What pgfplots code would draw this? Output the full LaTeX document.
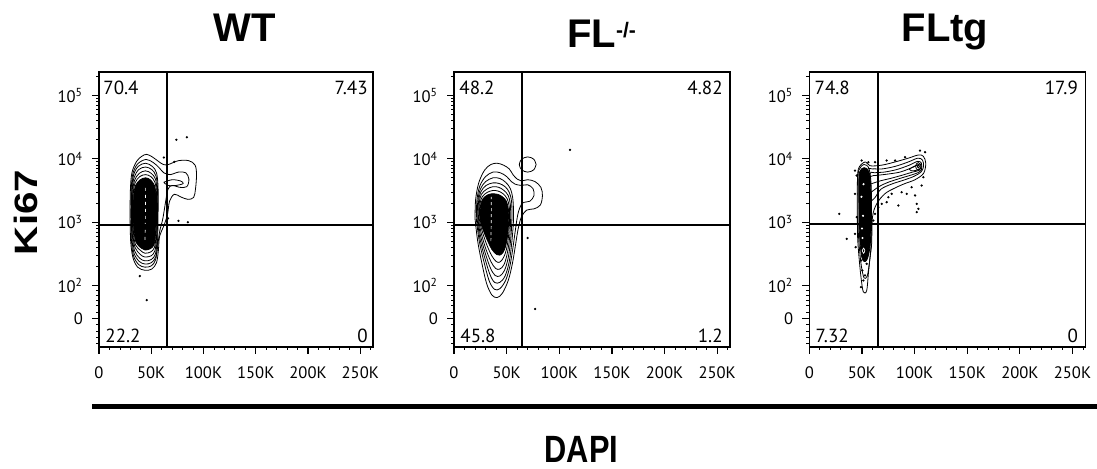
\documentclass[border=0pt]{standalone}
\usepackage{pgfplots}
\pgfplotsset{compat=1.18}
\usepackage{fontspec}
\usepackage{graphicx}
\setmainfont{Liberation Sans}
\newfontfamily\tickfont{PT Sans}

\tikzset{qlab/.style={font=\tickfont\fontsize{9.5}{10}\selectfont, inner sep=0pt}}
\pgfplotsset{
  flow/.style={
    scale only axis, height=137.5pt,
    xmin=0, xmax=262.144, ymin=1.03, ymax=5.37,
    axis line style={line width=0.65pt},
    tick align=outside, tick pos=left,
    xtick={0,50,100,150,200,250},
    xticklabels={0,50K,100K,150K,200K,250K},
    minor xtick={10,20,30,40,60,70,80,90,110,120,130,140,160,170,180,190,210,220,230,240,260},
    ytick={1.48,2,3,4,5},
    yticklabels={0,10\textsuperscript{2},10\textsuperscript{3},10\textsuperscript{4},10\textsuperscript{5}},
    minor ytick={1.08,1.18,1.28,1.38,1.58,1.68,1.77,1.85,1.92,
      2.301,2.477,2.602,2.699,2.778,2.845,2.903,2.954,
      3.301,3.477,3.602,3.699,3.778,3.845,3.903,3.954,
      4.301,4.477,4.602,4.699,4.778,4.845,4.903,4.954,5.301},
    major tick length=3.5pt, minor tick length=1.5pt,
    every tick/.style={black, line width=0.6pt},
    every minor tick/.style={black, line width=0.4pt},
    ticklabel style={font=\tickfont\fontsize{8.3}{8.3}\selectfont},
    xticklabel style={yshift=-3pt},
    yticklabel style={xshift=-1pt},
  },
  cont/.style={black, line width=0.4pt, smooth, tension=0.55, mark=none},
  core/.style={black, fill=black, line width=0.4pt, smooth, tension=0.55, mark=none},
  wcont/.style={white, line width=0.35pt, smooth, tension=0.55, mark=none},
  dots/.style={only marks, mark=*, mark size=0.35pt, black},
  gate/.style={black, line width=1pt, mark=none},
}

\begin{document}
\begin{tikzpicture}
\useasboundingbox (0pt,0pt) rectangle (548.5pt,-234.5pt);

% ---------------- WT ----------------
\begin{axis}[flow, at={(49.5pt,-173.5pt)}, anchor=south west, width=137pt]
\addplot[cont] coordinates {(29.7,3.10) (30,3.50) (31.5,3.78) (36,3.96) (41,4.04) (45.6,4.07) (51,4.03) (56.8,3.96) (61.6,3.91) (66.4,3.91) (75.9,3.97) (86,3.97) (91.9,3.90) (93.3,3.75) (92.3,3.52) (90.5,3.39) (85,3.36) (78,3.40) (72,3.44) (67.5,3.33) (65.5,3.12) (62,2.94) (58,2.78) (56.8,2.55) (55,2.36) (50.5,2.26) (44,2.24) (37,2.29) (32.5,2.44) (30.3,2.70) (29.7,3.10)};
\addplot[cont] coordinates {(30.5,3.10) (30.8,3.52) (32.5,3.77) (37,3.92) (45,3.99) (52,3.94) (57.5,3.86) (62,3.78) (68,3.75) (76,3.79) (83,3.78) (86,3.68) (84,3.56) (77,3.55) (70,3.58) (66,3.52) (63.5,3.30) (61,3.05) (58,2.85) (56,2.60) (54,2.40) (50,2.31) (44,2.29) (38,2.33) (33,2.47) (31,2.72) (30.5,3.10)};
\addplot[cont] coordinates {(62,3.63) (70,3.67) (78,3.65) (80.5,3.61) (74,3.58) (66,3.58) (62,3.63)};
\addplot[cont] coordinates {(31,3.10) (31.3,3.50) (33,3.74) (37.5,3.88) (44.5,3.93) (51,3.88) (55,3.78) (56.5,3.55) (56.5,3.10) (56,2.70) (54.5,2.46) (50,2.36) (44,2.34) (38.5,2.38) (33.5,2.51) (31.5,2.75) (31,3.10)};
\addplot[cont] coordinates {(31.5,3.10) (31.8,3.50) (33.5,3.70) (38,3.83) (44.5,3.87) (50.5,3.83) (54.5,3.73) (56,3.52) (56,3.10) (55.5,2.72) (54,2.50) (50,2.41) (44,2.39) (39,2.43) (34,2.55) (32,2.78) (31.5,3.10)};
\addplot[cont] coordinates {(32,3.10) (32.3,3.48) (34,3.66) (38.5,3.77) (44.5,3.81) (50,3.77) (54,3.68) (55.5,3.48) (55.5,3.10) (55,2.75) (53.5,2.55) (50,2.47) (44,2.45) (39.5,2.49) (34.5,2.60) (32.5,2.80) (32,3.10)};
\addplot[cont] coordinates {(32.5,3.10) (32.8,3.45) (34.5,3.62) (39,3.72) (44.5,3.75) (49.5,3.72) (53.5,3.63) (55,3.45) (55,3.10) (54.5,2.78) (53,2.60) (49.5,2.53) (44,2.51) (40,2.55) (35,2.64) (33,2.83) (32.5,3.10)};
\addplot[core] coordinates {(33,3.10) (33.3,3.42) (35,3.58) (39.5,3.67) (44.5,3.70) (49,3.67) (53,3.58) (54.5,3.42) (54.5,3.10) (54,2.80) (52.5,2.64) (49,2.58) (44,2.56) (40.5,2.59) (35.5,2.68) (33.5,2.86) (33,3.10)};
\addplot[wcont, dash pattern=on 1.5pt off 2pt] coordinates {(44,2.72) (44.3,3.00) (44.5,3.30) (44.3,3.58)};
\addplot[dots] coordinates {(74,4.30) (84,4.34) (62,4.02) (72,3.95) (66,3.06) (76,3.02) (85,3.00) (45.6,1.77) (39,2.15)};
\addplot[gate] coordinates {(65,1.03) (65,5.37)};
\addplot[gate] coordinates {(0,2.95) (262.144,2.95)};
\node[qlab, anchor=north west, xshift=2pt, yshift=-4.5pt] at (rel axis cs:0,1) {70.4};
\node[qlab, anchor=north east, xshift=-2.5pt, yshift=-4.5pt] at (rel axis cs:1,1) {7.43};
\node[qlab, anchor=base west, xshift=3pt, yshift=2pt] at (rel axis cs:0,0) {22.2};
\node[qlab, anchor=base east, xshift=-2.5pt, yshift=2pt] at (rel axis cs:1,0) {0};
\end{axis}

% ---------------- FL-/- ----------------
\begin{axis}[flow, at={(227pt,-173.5pt)}, anchor=south west, width=138pt]
\addplot[cont] coordinates {(20,3.05) (20.5,3.35) (23.5,3.62) (29,3.82) (35,3.91) (41,3.93) (47,3.90) (52.5,3.84) (56,3.75) (60,3.68) (64,3.65) (70,3.67) (77,3.64) (82.5,3.55) (84,3.42) (82,3.27) (76,3.21) (69,3.19) (64,3.08) (61,2.90) (58.5,2.65) (55.5,2.35) (51.5,2.08) (46,1.88) (41,1.81) (36,1.85) (31,2.03) (26.5,2.35) (22.5,2.70) (20,3.05)};
\addplot[cont] coordinates {(21.2,3.05) (21.8,3.35) (24.5,3.57) (30,3.72) (37,3.79) (44,3.78) (50,3.72) (54.5,3.64) (58,3.60) (64,3.58) (70,3.59) (75,3.53) (76,3.42) (72,3.33) (65,3.30) (61,3.15) (58.5,2.90) (56,2.60) (53,2.30) (49,2.08) (43.5,1.95) (38.5,1.94) (33.5,2.07) (28.5,2.37) (24,2.70) (21.2,3.05)};
\addplot[cont] coordinates {(22,3.05) (22.6,3.33) (25,3.52) (30,3.64) (37,3.70) (43.5,3.69) (49,3.63) (53.5,3.53) (56,3.35) (56.5,3.05) (55,2.70) (52.5,2.38) (48.5,2.15) (43.5,2.05) (38.5,2.05) (34,2.18) (29,2.45) (24.5,2.75) (22,3.05)};
\addplot[cont] coordinates {(22.7,3.05) (23.3,3.32) (25.5,3.48) (30.5,3.58) (37,3.62) (43,3.61) (48.5,3.56) (52.5,3.47) (54.7,3.32) (55,3.05) (53.8,2.72) (51.5,2.44) (48,2.24) (43.5,2.15) (39,2.16) (34.5,2.28) (29.5,2.52) (25,2.80) (22.7,3.05)};
\addplot[cont] coordinates {(23.3,3.05) (24,3.30) (26,3.44) (31,3.52) (37,3.56) (42.5,3.55) (47.5,3.50) (51.5,3.42) (53.5,3.28) (53.8,3.05) (52.8,2.75) (50.5,2.50) (47.5,2.33) (43.5,2.26) (39.5,2.27) (35,2.38) (30,2.59) (25.5,2.85) (23.3,3.05)};
\addplot[cont] coordinates {(24,3.05) (24.6,3.28) (26.8,3.40) (31.5,3.47) (37,3.50) (42,3.49) (46.5,3.45) (50.5,3.37) (52.5,3.24) (52.8,3.05) (51.8,2.78) (49.8,2.57) (47,2.44) (43.5,2.37) (40,2.38) (35.5,2.48) (30.5,2.67) (26,2.90) (24,3.05)};
\addplot[core] coordinates {(24.6,3.05) (25.2,3.26) (27.5,3.37) (32,3.43) (37,3.45) (41.5,3.44) (46,3.40) (49.8,3.33) (51.7,3.20) (52,3.05) (51,2.80) (49,2.62) (46.5,2.52) (43.5,2.48) (40.5,2.49) (36,2.57) (31,2.74) (26.5,2.93) (24.6,3.05)};
\addplot[wcont, dash pattern=on 1.5pt off 1.5pt] coordinates {(35,2.70) (35.3,2.95) (35.5,3.20) (35.3,3.40)};
\addplot[cont] coordinates {(78,3.91) (75.7,3.995) (70,4.03) (64.3,3.995) (62,3.91) (64.3,3.825) (70,3.79) (75.7,3.825) (78,3.91)};
\addplot[dots] coordinates {(110.2,4.14) (70,2.75) (77,1.63)};
\addplot[gate] coordinates {(65,1.03) (65,5.37)};
\addplot[gate] coordinates {(0,2.95) (262.144,2.95)};
\node[qlab, anchor=north west, xshift=2.5pt, yshift=-4.5pt] at (rel axis cs:0,1) {48.2};
\node[qlab, anchor=north east, xshift=-3.5pt, yshift=-4.5pt] at (rel axis cs:1,1) {4.82};
\node[qlab, anchor=base west, xshift=3pt, yshift=2pt] at (rel axis cs:0,0) {45.8};
\node[qlab, anchor=base east, xshift=-3.5pt, yshift=2pt] at (rel axis cs:1,0) {1.2};
\end{axis}

% ---------------- FLtg ----------------
\begin{axis}[flow, at={(404.65pt,-173.5pt)}, anchor=south west, width=138pt]
\addplot[cont] coordinates {(45.6,3.18) (45.6,3.55) (46.6,3.84) (52.9,3.95) (57.7,3.89) (68.8,3.90) (81.4,3.95) (94,4.01) (103.6,4.06) (108.3,4.04) (110.6,3.93) (108.5,3.77) (100.4,3.67) (90.9,3.61) (81.4,3.54) (71.9,3.45) (64,3.29) (60,3.08) (59.2,2.66) (57.7,2.45) (56.1,2.19) (54.5,1.92) (51.3,1.90) (49.1,2.13) (47.2,2.45) (45.9,2.76) (45.6,3.18)};
\addplot[cont] coordinates {(56,3.30) (55,3.80) (60,3.84) (69,3.84) (81.4,3.88) (94,3.95) (103,4.01) (107.5,3.98) (108.5,3.88) (106,3.79) (99,3.72) (89,3.66) (78,3.60) (68,3.52) (62,3.38) (56,3.30)};
\addplot[cont] coordinates {(57,3.45) (57,3.76) (62,3.78) (71,3.79) (83,3.83) (95,3.90) (103,3.96) (106.5,3.93) (106.5,3.83) (103,3.78) (96,3.74) (86,3.69) (75,3.63) (66,3.56) (57,3.45)};
\addplot[cont] coordinates {(58,3.60) (58,3.72) (65,3.74) (75,3.76) (86,3.79) (96,3.85) (102,3.90) (105,3.88) (104.5,3.82) (98,3.79) (88,3.74) (77,3.69) (67,3.65) (58,3.60)};
\addplot[cont] coordinates {(95,3.84) (100,3.88) (103.5,3.91) (106,3.91) (106,3.85) (102,3.82) (97,3.81) (95,3.84)};
\addplot[cont] coordinates {(106,3.88) (105.3,3.92) (103.5,3.94) (101.7,3.92) (101,3.88) (101.7,3.84) (103.5,3.82) (105.3,3.84) (106,3.88)};
\addplot[cont] coordinates {(104.5,3.88) (103.5,3.905) (102.5,3.88) (103.5,3.855) (104.5,3.88)};
\addplot[cont] coordinates {(46.2,3.20) (46.2,3.60) (47,3.82) (52,3.91) (56.8,3.84) (58.8,3.55) (59,3.0) (58.5,2.60) (57,2.35) (55,2.15) (52,2.12) (49.5,2.30) (47.8,2.55) (46.5,2.85) (46.2,3.20)};
\addplot[core] coordinates {(47.2,3.20) (47,3.55) (47.7,3.79) (52,3.86) (56.5,3.80) (58.3,3.55) (58.5,3.0) (58,2.68) (56.5,2.50) (54.5,2.40) (52,2.38) (49.8,2.45) (48.3,2.65) (47.4,2.9) (47.2,3.20)};
\addplot[wcont] coordinates {(50.3,2.55) (51.5,2.59) (52.7,2.55) (51.5,2.51) (50.3,2.55)};
\addplot[only marks, mark=*, mark size=0.3pt, white] coordinates {(49.5,3.40) (51,3.10) (50,2.90) (51.5,3.60) (50.5,2.75)};
\addplot[dots] coordinates {(43.4,3.815) (45.0,3.736) (43.4,3.447) (45.0,3.079) (43.4,2.816) (44.0,2.606) (49.1,2.395) (50.4,2.238) (51.3,2.080) (49.1,1.975) (52.9,2.159) (54.5,2.343) (60.8,3.026) (62.4,3.131) (65.6,3.237) (68.8,3.289) (73.5,3.315) (75.1,3.394) (78.2,3.447) (84.6,3.263) (87.7,3.473) (92.5,3.447) (97.2,3.552) (100.4,3.421) (102.0,3.289) (103.6,3.210) (102.0,3.158) (106.7,3.578) (108.3,3.710) (109.9,4.104) (105.1,4.130) (90.9,4.025) (81.4,3.973) (73.5,3.973) (62.4,3.946) (56.1,3.946) (49.7,3.973) (28.5,3.131) (35.5,2.737)};
\addplot[gate] coordinates {(65.5,1.03) (65.5,5.37)};
\addplot[gate] coordinates {(0,2.97) (262.144,2.97)};
\node[qlab, anchor=north west, xshift=2.5pt, yshift=-4.5pt] at (rel axis cs:0,1) {74.8};
\node[qlab, anchor=north east, xshift=-3.5pt, yshift=-4.5pt] at (rel axis cs:1,1) {17.9};
\node[qlab, anchor=base west, xshift=3pt, yshift=2pt] at (rel axis cs:0,0) {7.32};
\node[qlab, anchor=base east, xshift=-3.5pt, yshift=2pt] at (rel axis cs:1,0) {0};
\end{axis}

% ---------------- titles and labels ----------------
\node[anchor=base, inner sep=0pt, font=\fontsize{20}{20}\selectfont\bfseries] at (122.5pt,-21pt) {WT};
\node[anchor=base west, inner sep=0pt, font=\fontsize{20}{20}\selectfont\bfseries] at (283.5pt,-24pt) {FL};
\node[anchor=center, inner sep=0pt, font=\fontsize{10.5}{10.5}\selectfont\bfseries] at (313pt,-15pt) {-/-};
\node[anchor=base, inner sep=0pt, font=\fontsize{20}{20}\selectfont\bfseries] at (472.5pt,-21pt) {FLtg};
\node[anchor=center, inner sep=0pt, rotate=90] at (13pt,-106.25pt) {\scalebox{1.31}[1.05]{\fontsize{15.4}{15.4}\selectfont\bfseries Ki67}};
\node[anchor=base, inner sep=0pt] at (290.75pt,-231.5pt) {\scalebox{0.81}[1]{\fontsize{19}{19}\selectfont\bfseries DAPI}};
\draw[line width=2.5pt, black] (46pt,-203.25pt) -- (548.5pt,-203.25pt);
\end{tikzpicture}
\end{document}
